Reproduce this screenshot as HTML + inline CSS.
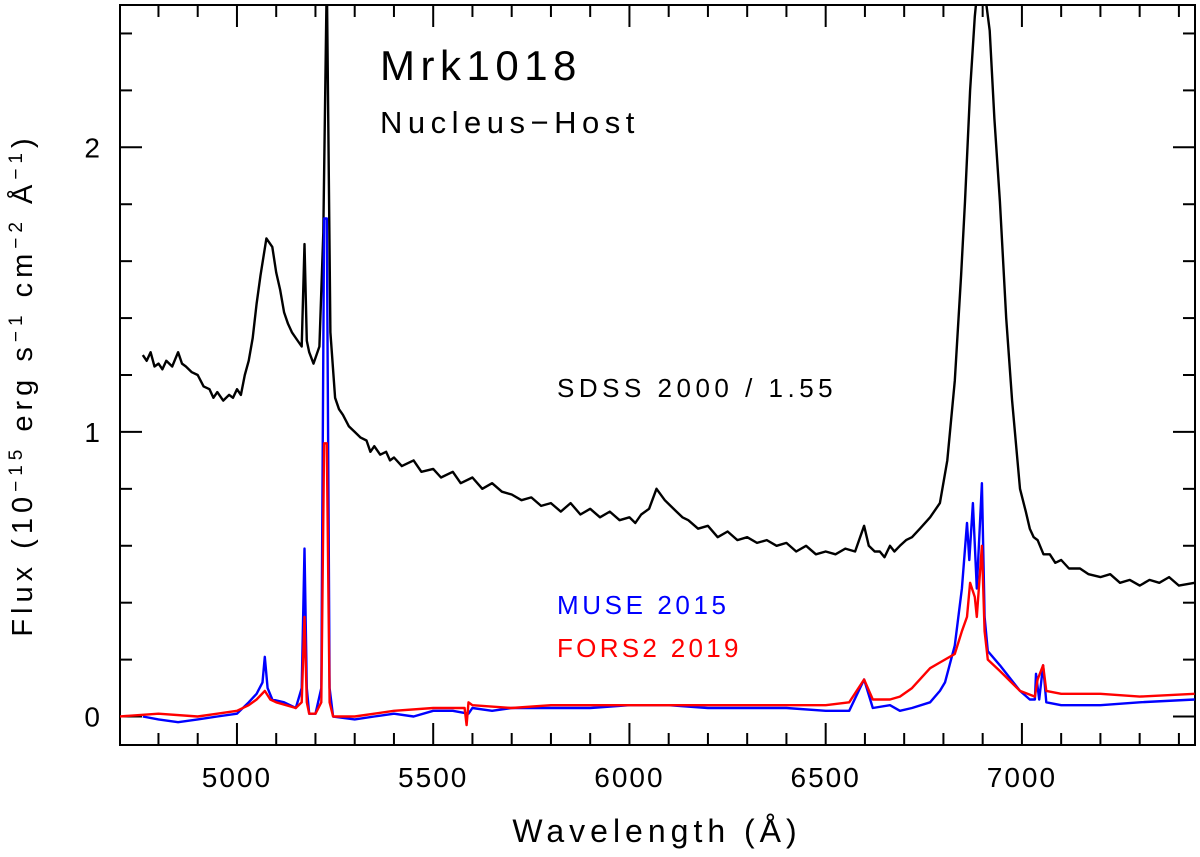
<!DOCTYPE html>
<html><head><meta charset="utf-8"><style>
body{margin:0;background:#fff;}
svg{display:block;font-family:"Liberation Sans",sans-serif;}
</style></head><body>
<svg id="chart" width="1200" height="857" viewBox="0 0 1200 857">
<g id="axes"></g>
<g id="series"></g>
<text x="380" y="80" font-size="42" letter-spacing="5.5">Mrk1018</text>
<text x="380" y="133" font-size="31" letter-spacing="5.5">Nucleus−Host</text>
<text x="557" y="397" font-size="26" letter-spacing="4.5">SDSS 2000 / 1.55</text>
<text x="557" y="614" font-size="26" fill="#0000ff" letter-spacing="3.6">MUSE 2015</text>
<text x="557" y="657" font-size="26" fill="#ff0000" letter-spacing="3.3">FORS2 2019</text>
<text x="657" y="842" font-size="32" text-anchor="middle" letter-spacing="5">Wavelength (Å)</text>
<text transform="translate(32,385) rotate(-90)" font-size="29" text-anchor="middle" letter-spacing="5">Flux (10<tspan font-size="19" dy="-10">−15</tspan><tspan dy="10"> erg s</tspan><tspan font-size="19" dy="-10">−1</tspan><tspan dy="10"> cm</tspan><tspan font-size="19" dy="-10">−2</tspan><tspan dy="10"> Å</tspan><tspan font-size="19" dy="-10">−1</tspan><tspan dy="10">)</tspan></text>
</svg>
<script>
const xTicks=[5000,5500,6000,6500,7000];
const yTicks=[0,1,2];
const sdssWave=[4760,4770,4780,4790,4800,4810,4820,4835,4850,4860,4870,4885,4900,4915,4930,4940,4950,4965,4980,4990,5000,5010,5020,5030,5040,5050,5060,5075,5090,5100,5110,5120,5130,5140,5150,5165,5172,5178,5184,5195,5210,5220,5229,5238,5250,5260,5270,5285,5300,5315,5330,5340,5350,5365,5380,5390,5400,5420,5450,5470,5500,5520,5550,5570,5600,5625,5650,5675,5700,5725,5750,5775,5800,5825,5850,5875,5900,5925,5950,5975,6000,6015,6030,6050,6069,6090,6105,6120,6135,6150,6175,6200,6225,6250,6275,6300,6325,6350,6375,6400,6425,6450,6475,6500,6525,6550,6575,6598,6610,6625,6638,6650,6664,6675,6689,6705,6720,6740,6766,6791,6810,6829,6845,6855,6868,6880,6890,6905,6918,6930,6944,6960,6975,6995,7010,7020,7030,7040,7055,7071,7085,7100,7120,7148,7170,7200,7225,7250,7275,7300,7325,7350,7375,7400,7440];
const sdssFlux=[1.27,1.25,1.28,1.23,1.24,1.22,1.25,1.23,1.28,1.24,1.23,1.21,1.2,1.16,1.15,1.12,1.14,1.11,1.13,1.12,1.15,1.13,1.2,1.25,1.33,1.45,1.55,1.68,1.65,1.56,1.5,1.42,1.38,1.35,1.33,1.3,1.66,1.32,1.28,1.24,1.3,1.7,2.6,1.35,1.12,1.08,1.06,1.02,1.0,0.98,0.97,0.93,0.95,0.92,0.93,0.9,0.91,0.88,0.9,0.86,0.87,0.84,0.86,0.82,0.84,0.8,0.82,0.79,0.78,0.76,0.77,0.74,0.75,0.72,0.75,0.71,0.73,0.7,0.72,0.69,0.7,0.68,0.71,0.73,0.8,0.76,0.74,0.72,0.7,0.69,0.66,0.67,0.63,0.65,0.62,0.63,0.61,0.62,0.6,0.61,0.58,0.6,0.57,0.58,0.57,0.59,0.58,0.67,0.6,0.58,0.58,0.56,0.6,0.58,0.6,0.62,0.63,0.66,0.7,0.75,0.9,1.18,1.55,1.81,2.2,2.46,2.6,2.55,2.41,2.1,1.81,1.4,1.11,0.8,0.72,0.66,0.63,0.62,0.57,0.57,0.54,0.55,0.52,0.52,0.5,0.49,0.5,0.47,0.48,0.46,0.48,0.47,0.49,0.46,0.47,0.47];
const museWave=[4760,4800,4850,4900,4950,5000,5030,5050,5065,5071,5078,5090,5120,5150,5165,5172,5178,5184,5200,5215,5222,5229,5236,5245,5300,5350,5400,5450,5500,5550,5590,5600,5650,5700,5800,5900,6000,6100,6200,6300,6400,6500,6560,6598,6620,6664,6689,6720,6766,6791,6804,6829,6847,6860,6866,6875,6885,6898,6905,6913,6944,6995,7020,7033,7036,7044,7054,7062,7100,7200,7300,7440];
const museFlux=[0.0,-0.01,-0.02,-0.01,0.0,0.01,0.05,0.08,0.12,0.21,0.1,0.06,0.05,0.03,0.1,0.59,0.1,0.01,0.01,0.1,1.75,1.75,0.1,0.0,-0.01,0.0,0.01,0.0,0.02,0.02,0.01,0.03,0.02,0.03,0.03,0.03,0.04,0.04,0.03,0.03,0.03,0.02,0.02,0.13,0.03,0.04,0.02,0.03,0.05,0.09,0.12,0.25,0.45,0.68,0.55,0.75,0.45,0.82,0.35,0.23,0.18,0.09,0.06,0.06,0.15,0.06,0.18,0.05,0.04,0.04,0.05,0.06];
const forsWave=[4700,4800,4900,4950,5000,5030,5050,5071,5085,5100,5150,5165,5172,5178,5184,5200,5215,5222,5229,5236,5245,5300,5400,5500,5580,5585,5590,5600,5700,5800,5900,6000,6100,6200,6300,6400,6500,6560,6598,6620,6664,6689,6720,6766,6791,6829,6847,6860,6868,6880,6885,6898,6905,6913,6944,6995,7033,7040,7054,7062,7100,7200,7300,7440];
const forsFlux=[0.0,0.01,0.0,0.01,0.02,0.04,0.06,0.09,0.06,0.05,0.03,0.05,0.35,0.05,0.01,0.01,0.05,0.96,0.96,0.05,0.0,0.0,0.02,0.03,0.03,-0.03,0.05,0.04,0.03,0.04,0.04,0.04,0.04,0.04,0.04,0.04,0.04,0.05,0.13,0.06,0.06,0.07,0.1,0.17,0.19,0.22,0.3,0.35,0.47,0.42,0.35,0.6,0.3,0.2,0.16,0.09,0.07,0.13,0.18,0.09,0.08,0.08,0.07,0.08];

const X0=120,X1=1195,Y0=745,Y1=5,WMIN=4702,WMAX=7441,FMIN=-0.1,FMAX=2.5;
function xs(w){return X0+(w-WMIN)/(WMAX-WMIN)*(X1-X0);}
function ys(f){return Y0-(f-FMIN)/(FMAX-FMIN)*(Y0-Y1);}
const NS='http://www.w3.org/2000/svg';
const axes=document.getElementById('axes'),ser=document.getElementById('series');
function mk(tag,attrs,parent){const e=document.createElementNS(NS,tag);for(const k in attrs)e.setAttribute(k,attrs[k]);parent.appendChild(e);return e;}
const frame=mk('rect',{x:X0,y:Y1,width:X1-X0,height:Y0-Y1,fill:'none',stroke:'#000','stroke-width':2},axes);


for(let w=4800;w<=7400;w+=100){
  const major=w%500===0,L=major?22:12,x=xs(w);
  const t1=mk('line',{x1:x,x2:x,y1:Y0,y2:Y0-L,stroke:'#000','stroke-width':2},axes);
  
  
  const t2=mk('line',{x1:x,x2:x,y1:Y1,y2:Y1+L,stroke:'#000','stroke-width':2},axes);
  
  
}
xTicks.forEach(w=>{const t=mk('text',{x:xs(w),y:787,'font-size':28,'text-anchor':'middle','letter-spacing':2},axes);t.textContent=w;
  
  });
for(let i=0;i<=12;i++){
  const f=i*0.2,major=i%5===0,L=major?22:12,y=ys(f);
  const t1=mk('line',{x1:X0,x2:X0+L,y1:y,y2:y,stroke:'#000','stroke-width':2},axes);
  
  
  const t2=mk('line',{x1:X1,x2:X1-L,y1:y,y2:y,stroke:'#000','stroke-width':2},axes);
  
  
}
yTicks.forEach(f=>{const t=mk('text',{x:100,y:ys(f)+10,'font-size':28,'text-anchor':'end'},axes);t.textContent=f;
  
  });
const clip=mk('clipPath',{id:'pc'},ser);mk('rect',{x:X0,y:Y1,width:X1-X0,height:Y0-Y1},clip);
function line(wa,fa,color,name){
  const d=wa.map((w,i)=>(i?'L':'M')+xs(w).toFixed(1)+','+ys(fa[i]).toFixed(1)).join('');
  const p=mk('path',{d:d,fill:'none',stroke:color,'stroke-width':2.4,'stroke-linejoin':'round','clip-path':'url(#pc)'},ser);
  
  
}
line(sdssWave,sdssFlux,'#000','sdss-2000-line');
line(museWave,museFlux,'#0000ff','muse-2015-line');
line(forsWave,forsFlux,'#ff0000','fors2-2019-line');
</script>
</body></html>
